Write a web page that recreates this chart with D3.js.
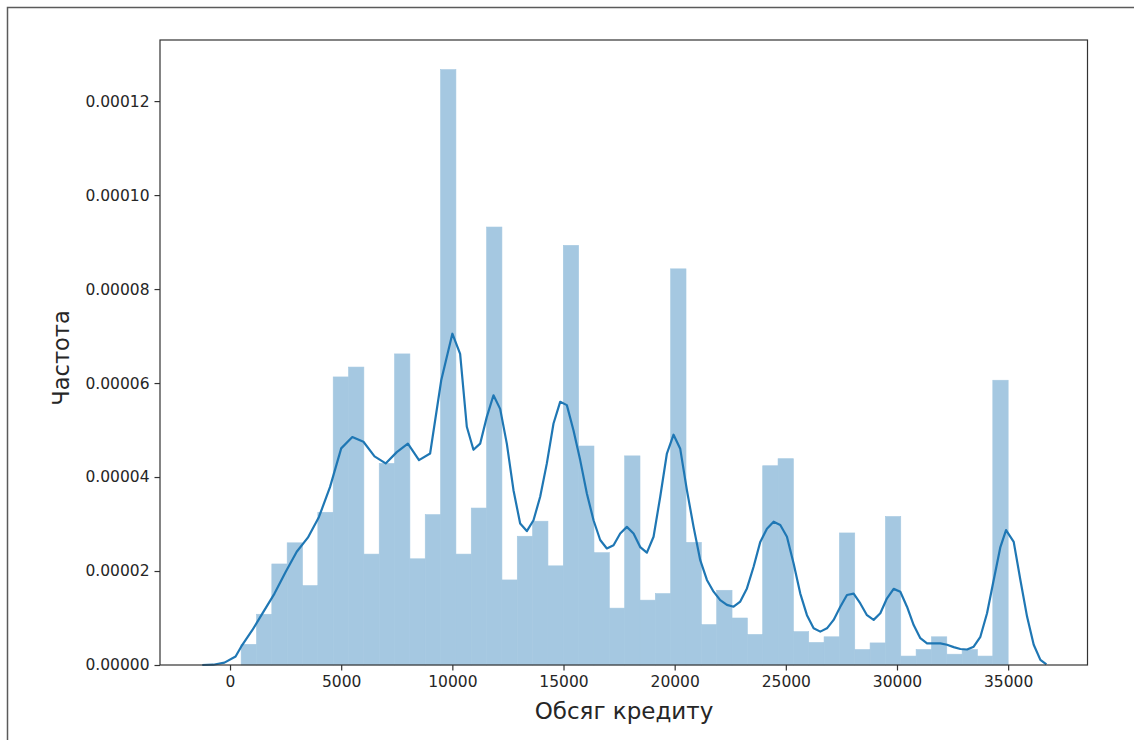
<!DOCTYPE html>
<html>
<head>
<meta charset="utf-8">
<script src="https://cdn.jsdelivr.net/npm/d3@7"></script>
<style>
  body { margin: 0; background: #fff; }
  text { font-family: "DejaVu Sans", sans-serif; }
</style>
</head>
<body>
<svg id="chart"></svg>
<script>
// histogram bins (left edges) and density heights
var binEdges = [500, 1190, 1880, 2570, 3260, 3950, 4640, 5330, 6020, 6710,
  7400, 8090, 8780, 9470, 10160, 10850, 11540, 12230, 12920, 13610,
  14300, 14990, 15680, 16370, 17060, 17750, 18440, 19130, 19820, 20510,
  21200, 21890, 22580, 23270, 23960, 24650, 25340, 26030, 26720, 27410,
  28100, 28790, 29480, 30170, 30860, 31550, 32240, 32930, 33620, 34310, 35000];

var binDensity = [4.4e-6, 1.08e-5, 2.15e-5, 2.6e-5, 1.69e-5, 3.25e-5, 6.13e-5, 6.34e-5, 2.36e-5, 4.29e-5,
  6.62e-5, 2.26e-5, 3.2e-5, 1.267e-4, 2.36e-5, 3.34e-5, 9.32e-5, 1.81e-5, 2.74e-5, 3.06e-5,
  2.11e-5, 8.93e-5, 4.66e-5, 2.39e-5, 1.21e-5, 4.45e-5, 1.38e-5, 1.52e-5, 8.43e-5, 2.61e-5,
  8.6e-6, 1.59e-5, 1.0e-5, 6.5e-6, 4.24e-5, 4.39e-5, 7.1e-6, 4.8e-6, 6.0e-6, 2.81e-5,
  3.3e-6, 4.7e-6, 3.16e-5, 1.9e-6, 3.3e-6, 6.0e-6, 2.3e-6, 3.3e-6, 1.9e-6, 6.06e-5];

// kde curve
var kdeX = [-1250, -750, -250, 250, 500, 1000, 1500, 2000, 2500, 3000,
  3500, 4000, 4500, 5000, 5500, 6000, 6500, 7000, 7500, 8000,
  8500, 9000, 9500, 10000, 10350, 10650, 10950, 11250, 11550, 11850,
  12150, 12450, 12750, 13050, 13350, 13650, 13950, 14250, 14550, 14850,
  15150, 15450, 15750, 16050, 16350, 16650, 16950, 17250, 17550, 17850,
  18150, 18450, 18750, 19050, 19350, 19650, 19950, 20250, 20550, 20850,
  21150, 21450, 21750, 22050, 22350, 22650, 22950, 23250, 23550, 23850,
  24150, 24450, 24750, 25050, 25350, 25650, 25950, 26250, 26550, 26850,
  27150, 27450, 27750, 28050, 28350, 28650, 28950, 29250, 29550, 29850,
  30150, 30450, 30750, 31050, 31350, 31650, 31950, 32250, 32550, 32850,
  33150, 33450, 33750, 34050, 34350, 34650, 34905, 35250, 35550, 35850,
  36150, 36450, 36720];

var kdeY = [0, 0.6e-7, 0.5e-6, 1.8e-6, 3.9e-6, 7.4e-6, 1.13e-5, 1.52e-5, 1.98e-5, 2.41e-5,
  2.71e-5, 3.15e-5, 3.79e-5, 4.61e-5, 4.85e-5, 4.75e-5, 4.44e-5, 4.29e-5, 4.53e-5, 4.71e-5,
  4.36e-5, 4.5e-5, 6.06e-5, 7.05e-5, 6.62e-5, 5.07e-5, 4.58e-5, 4.71e-5, 5.28e-5, 5.74e-5,
  5.45e-5, 4.71e-5, 3.72e-5, 3.01e-5, 2.85e-5, 3.08e-5, 3.58e-5, 4.29e-5, 5.14e-5, 5.6e-5,
  5.53e-5, 4.99e-5, 4.36e-5, 3.65e-5, 3.08e-5, 2.66e-5, 2.48e-5, 2.55e-5, 2.8e-5, 2.94e-5,
  2.8e-5, 2.51e-5, 2.39e-5, 2.73e-5, 3.58e-5, 4.5e-5, 4.9e-5, 4.6e-5, 3.72e-5, 2.94e-5,
  2.23e-5, 1.81e-5, 1.56e-5, 1.38e-5, 1.28e-5, 1.24e-5, 1.35e-5, 1.63e-5, 2.09e-5, 2.62e-5,
  2.9e-5, 3.05e-5, 2.98e-5, 2.73e-5, 2.16e-5, 1.52e-5, 1.06e-5, 7.8e-6, 7.1e-6, 7.8e-6,
  9.6e-6, 1.24e-5, 1.49e-5, 1.52e-5, 1.31e-5, 1.06e-5, 9.6e-6, 1.1e-5, 1.42e-5, 1.62e-5,
  1.56e-5, 1.24e-5, 8.5e-6, 5.7e-6, 4.6e-6, 4.6e-6, 4.6e-6, 4.3e-6, 3.8e-6, 3.4e-6,
  3.3e-6, 3.9e-6, 6.0e-6, 1.1e-5, 1.81e-5, 2.51e-5, 2.87e-5, 2.62e-5, 1.81e-5, 1.03e-5,
  4.3e-6, 1.1e-6, 1.4e-7];

var xTicks = [0, 5000, 10000, 15000, 20000, 25000, 30000, 35000];
var yTicks = [0, 0.00002, 0.00004, 0.00006, 0.00008, 0.0001, 0.00012];

var xLabel = "Обсяг кредиту";
var yLabel = "Частота";

var width = 1134;
var height = 740;
var mLeft = 160, mRight = 1087.5, mTop = 40, mBottom = 665;

var svg = d3.select("#chart")
  .attr("width", width)
  .attr("height", height);

// notebook output frame
svg.append("path")
  .attr("d", "M7.5,740 L7.5,7.5 L1134,7.5")
  .attr("fill", "none")
  .attr("stroke", "#5b5b5b")
  .attr("stroke-width", 1.5);

var x = d3.scaleLinear().domain([-3150, 38569]).range([mLeft, mRight]);
var y = d3.scaleLinear().domain([0, 0.000133]).range([mBottom, mTop]);

var bars = binDensity.map(function(d, i) {
  return { x0: binEdges[i], x1: binEdges[i + 1], v: d };
});

svg.selectAll("rect.bar")
  .data(bars)
  .enter()
  .append("rect")
  .attr("class", "bar")
  .attr("x", function(d) { return x(d.x0); })
  .attr("y", function(d) { return y(d.v); })
  .attr("width", function(d) { return x(d.x1) - x(d.x0); })
  .attr("height", function(d) { return mBottom - y(d.v); })
  .attr("fill", "#a5c8e1")
  .attr("stroke", "#a5c8e1")
  .attr("stroke-width", 0.6);

var line = d3.line()
  .x(function(d, i) { return x(kdeX[i]); })
  .y(function(d) { return y(d); });

svg.append("path")
  .datum(kdeY)
  .attr("d", line)
  .attr("fill", "none")
  .attr("stroke", "#1f77b4")
  .attr("stroke-width", 2.2)
  .attr("stroke-linejoin", "round");

var xAxis = svg.append("g")
  .attr("transform", "translate(0," + mBottom + ")")
  .call(d3.axisBottom(x).tickValues(xTicks).tickFormat(d3.format("d"))
    .tickSize(5.5).tickPadding(5).tickSizeOuter(0));

var yAxis = svg.append("g")
  .attr("transform", "translate(" + mLeft + ",0)")
  .call(d3.axisLeft(y).tickValues(yTicks).tickFormat(d3.format(".5f"))
    .tickSize(5.5).tickPadding(5).tickSizeOuter(0));

[xAxis, yAxis].forEach(function(g) {
  g.select(".domain").remove();
  g.selectAll(".tick line").attr("stroke", "#333").attr("stroke-width", 1.2);
  g.selectAll(".tick text")
    .attr("fill", "#262626")
    .style("font-size", "15.5px")
    .style("font-family", "DejaVu Sans");
});

svg.append("rect")
  .attr("x", mLeft)
  .attr("y", mTop)
  .attr("width", mRight - mLeft)
  .attr("height", mBottom - mTop)
  .attr("fill", "none")
  .attr("stroke", "#333")
  .attr("stroke-width", 1.2);

svg.append("text")
  .attr("x", 624)
  .attr("y", 719)
  .attr("text-anchor", "middle")
  .attr("fill", "#262626")
  .style("font-size", "23px")
  .text(xLabel);

svg.append("text")
  .attr("transform", "translate(69," + 358 + ") rotate(-90)")
  .attr("text-anchor", "middle")
  .attr("fill", "#262626")
  .style("font-size", "22.5px")
  .text(yLabel);
</script>
</body>
</html>
